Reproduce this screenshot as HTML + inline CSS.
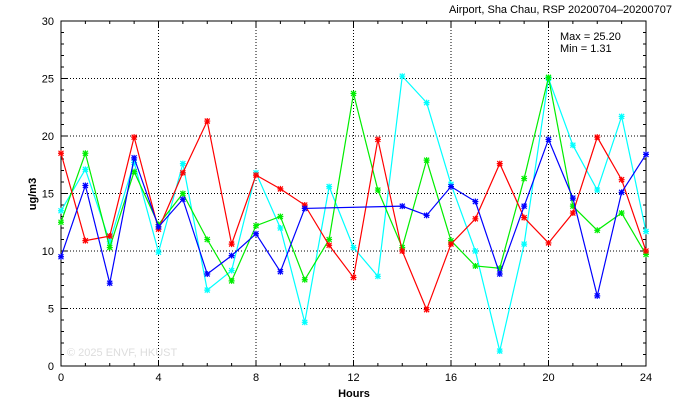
<!DOCTYPE html>
<html><head><meta charset="utf-8"><style>body{margin:0;background:#fff}svg{display:block}text{font-family:"Liberation Sans",sans-serif}</style></head>
<body>
<svg id="s" width="674" height="409" xmlns="http://www.w3.org/2000/svg">
<text x="672" y="13" font-size="11" text-anchor="end">Airport, Sha Chau, RSP 20200704–20200707</text>
<text x="560" y="40" font-size="11">Max = 25.20</text>
<text x="560" y="52" font-size="11">Min =  1.31</text>
<text x="67" y="356" font-size="11" fill="#ddd">© 2025  ENVF, HKUST</text>
<text x="354" y="397" font-size="11" font-weight="bold" text-anchor="middle">Hours</text>
<text transform="translate(36,194) rotate(-90)" font-size="11" font-weight="bold" text-anchor="middle">ug/m3</text>
<g id="g"></g>
</svg>
<script>
var g=document.getElementById('g'),h='';
function X(t){return 61+t*24.375}function Y(v){return 366-v*11.5}
for(var v=5;v<30;v+=5)h+='<line x1="61" x2="646" y1="'+Y(v)+'" y2="'+Y(v)+'" stroke="#000" stroke-dasharray="1,2"/>';
for(var t=4;t<24;t+=4)h+='<line y1="21" y2="366" x1="'+X(t)+'" x2="'+X(t)+'" stroke="#000" stroke-dasharray="1,2"/>';
for(var v=0;v<=30;v+=1){var l=v%5==0?6:3;h+='<line x1="61" x2="'+(61+l)+'" y1="'+Y(v)+'" y2="'+Y(v)+'" stroke="#000"/><line x1="646" x2="'+(646-l)+'" y1="'+Y(v)+'" y2="'+Y(v)+'" stroke="#000"/>';
if(v%5==0)h+='<text x="54" y="'+(Y(v)+4)+'" font-size="11" text-anchor="end">'+v+'</text>';}
for(var t=0;t<=24;t++){var l=t%4==0?6:3;h+='<line y1="366" y2="'+(366-l)+'" x1="'+X(t)+'" x2="'+X(t)+'" stroke="#000"/><line y1="21" y2="'+(21+l)+'" x1="'+X(t)+'" x2="'+X(t)+'" stroke="#000"/>';
if(t%4==0)h+='<text x="'+X(t)+'" y="381" font-size="11" text-anchor="middle">'+t+'</text>';}
h+='<rect x="61" y="21" width="585" height="345" fill="none" stroke="#000"/>';
var S=[['#00ffff',[13.5,17.1,10.8,17.7,9.9,17.6,6.6,8.3,16.8,12.0,3.8,15.6,10.3,7.8,25.2,22.9,15.8,10.0,1.3,10.6,25.0,19.2,15.3,21.7,11.7]],
['#00ee00',[12.5,18.5,10.3,16.9,12.3,15.0,11.0,7.4,12.2,13.0,7.5,11.0,23.7,15.3,10.3,17.9,10.9,8.7,8.5,16.3,25.1,13.9,11.8,13.3,9.7]],
['#ff0000',[18.5,10.9,11.3,19.9,11.9,16.8,21.3,10.6,16.6,15.4,14.0,10.5,7.7,19.7,10.0,4.9,10.6,12.8,17.6,12.9,10.7,13.3,19.9,16.2,10.0]],
['#0000ff',[9.5,15.7,7.2,18.1,12.1,14.5,8.0,9.6,11.5,8.2,13.7,null,null,null,13.9,13.1,15.6,14.3,8.0,13.9,19.7,14.6,6.1,15.1,18.4]]];
S.forEach(function(s){var p=[],m='';s[1].forEach(function(v,i){if(v==null)return;var x=X(i),y=Y(v);p.push(x+','+y);
m+='<path d="M'+(x-3)+' '+y+'h6M'+x+' '+(y-3)+'v6M'+(x-2.5)+' '+(y-2.5)+'l5 5M'+(x-2.5)+' '+(y+2.5)+'l5 -5" stroke="'+s[0]+'" stroke-width="1.2"/>';});
h+='<polyline points="'+p.join(' ')+'" fill="none" stroke="'+s[0]+'" stroke-width="1.2"/>'+m;});
g.innerHTML=h;
</script>
</body></html>
